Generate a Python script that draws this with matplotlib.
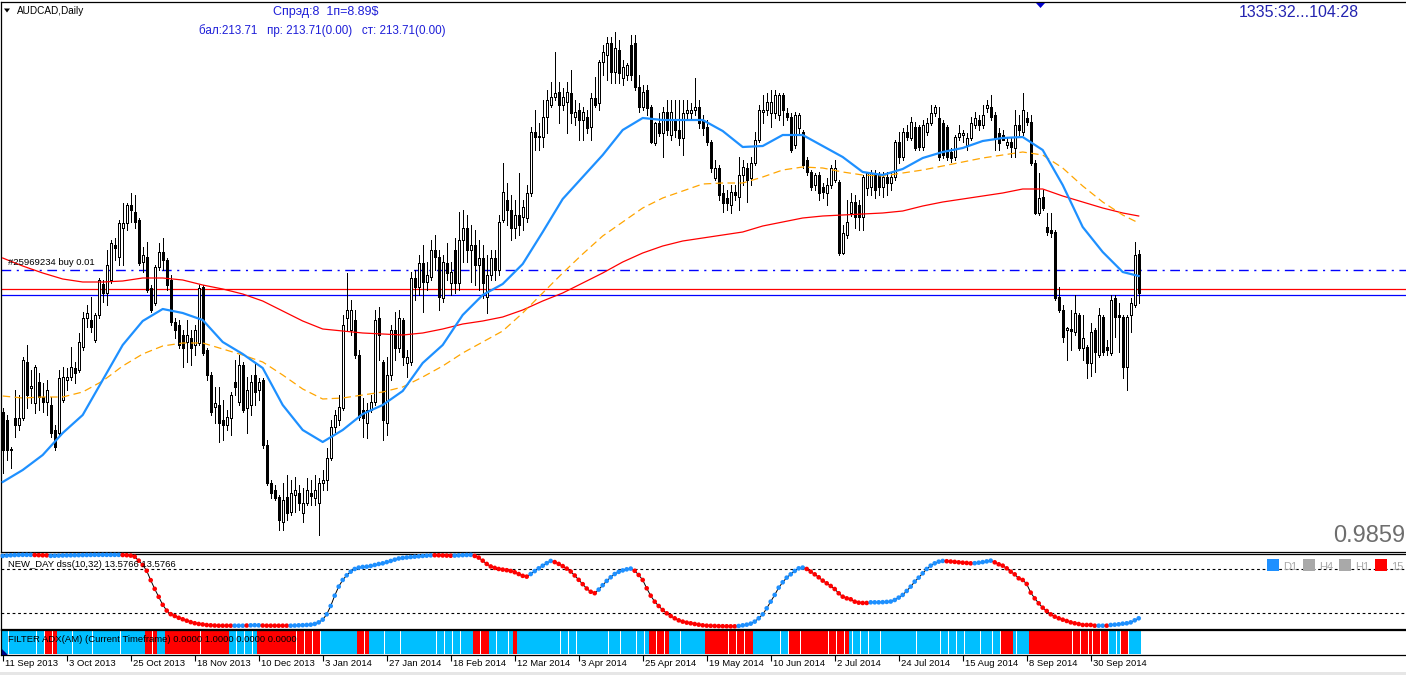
import numpy as np
import matplotlib
matplotlib.use("Agg")
import matplotlib.pyplot as plt
from matplotlib.patches import Rectangle, Polygon
from matplotlib.transforms import blended_transform_factory

plt.rcParams['font.family'] = ['Liberation Sans', 'DejaVu Sans']

W, H, DPI = 1406, 675, 100

# ---------------- texts ----------------
symbol_title = "AUDCAD,Daily"
info_line1 = "Спрэд:8  1п=8.89$"
info_line2 = "бал:213.71   пр: 213.71(0.00)   ст: 213.71(0.00)"
timer_text = "1335:32...104:28"
price_label = "0.9859"
order_label = "#25969234 buy 0.01"
dss_label = "NEW_DAY dss(10,32) 13.5766 13.5766"
adx_label = "FILTER ADX(AM) (Current Timeframe) 0.0000 1.0000 0.0000 0.0000"
tf_legend = ["D1", "H4", "H1", "15"]
tf_colors = ["#1E90FF", "#A9A9A9", "#A9A9A9", "#FF0000"]

date_labels = ["11 Sep 2013", "3 Oct 2013", "25 Oct 2013", "18 Nov 2013", "10 Dec 2013",
               "3 Jan 2014", "27 Jan 2014", "18 Feb 2014", "12 Mar 2014", "3 Apr 2014",
               "25 Apr 2014", "19 May 2014", "10 Jun 2014", "2 Jul 2014", "24 Jul 2014",
               "15 Aug 2014", "8 Sep 2014", "30 Sep 2014"]
date_bars = [0, 16, 32, 48, 64, 80, 96, 112, 128, 144, 160, 176, 192, 208, 224, 240, 256, 272]

# ---------------- OHLC (price in units of 0.0001) ----------------
PIP = 0.0001
open_p = [
 9546, 9530, 9470, 9534, 9520, 9534, 9646, 9594, 9564, 9606,
 9576, 9566, 9560, 9510, 9504, 9570, 9610, 9616, 9634, 9630,
 9676, 9734, 9730, 9690, 9740, 9802, 9784, 9810, 9880, 9856,
 9914, 9924, 9960, 9946, 9930, 9846, 9856, 9794, 9764, 9836,
 9866, 9850, 9810, 9726, 9720, 9700, 9686, 9694, 9680, 9684,
 9796, 9670, 9620, 9556, 9560, 9530, 9520, 9534, 9606, 9566,
 9640, 9554, 9560, 9620, 9590, 9610, 9480, 9404, 9390, 9376,
 9326, 9376, 9346, 9380, 9384, 9344, 9364, 9384, 9374, 9364,
 9404, 9410, 9454, 9516, 9530, 9554, 9734, 9710, 9730, 9660,
 9550, 9524, 9550, 9566, 9734, 9646, 9524, 9620, 9710, 9674,
 9730, 9644, 9646, 9814, 9796, 9844, 9806, 9816, 9870, 9856,
 9774, 9844, 9804, 9870, 9804, 9890, 9914, 9870, 9880, 9840,
 9854, 9776, 9820, 9854, 9830, 9930, 9970, 9950, 9914, 9940,
 9936, 9934, 9984, 10106, 10096, 10096, 10136, 10160, 10176, 10186,
 10160, 10166, 10184, 10136, 10150, 10130, 10136, 10116, 10174, 10164,
 10246, 10260, 10284, 10226, 10270, 10214, 10220, 10280, 10284, 10196,
 10156, 10190, 10156, 10084, 10124, 10104, 10146, 10100, 10130, 10110,
 10094, 10144, 10144, 10150, 10156, 10130, 10116, 10086, 10014, 10034,
 9984, 9974, 9960, 9986, 9976, 10020, 10034, 10014, 10044, 10090,
 10146, 10150, 10144, 10144, 10140, 10180, 10144, 10136, 10080, 10114,
 10106, 10050, 10026, 10000, 10020, 9996, 9984, 10000, 10010, 10006,
 9864, 9900, 9944, 9966, 9960, 9936, 9994, 9996, 10024, 10020,
 9996, 10016, 10004, 10016, 10086, 10056, 10106, 10094, 10116, 10116,
 10076, 10106, 10124, 10144, 10134, 10124, 10116, 10066, 10056, 10096,
 10100, 10080, 10094, 10120, 10130, 10120, 10154, 10156, 10140, 10104,
 10100, 10080, 10086, 10074, 10120, 10106, 10134, 10126, 10044, 9944,
 9976, 9916, 9910, 9906, 9776, 9750, 9710, 9712, 9706, 9740,
 9674, 9676, 9644, 9710, 9660, 9736, 9676, 9664, 9774, 9740,
 9736, 9636, 9740, 9760, 9862]
high_p = [
 9554, 9540, 9476, 9590, 9580, 9656, 9680, 9630, 9640, 9624,
 9604, 9610, 9576, 9520, 9630, 9636, 9634, 9676, 9646, 9704,
 9746, 9760, 9776, 9744, 9814, 9810, 9870, 9890, 9894, 9930,
 9964, 9964, 9984, 9980, 9934, 9876, 9886, 9800, 9840, 9884,
 9894, 9854, 9820, 9734, 9730, 9710, 9730, 9710, 9720, 9800,
 9800, 9674, 9626, 9596, 9596, 9570, 9550, 9586, 9650, 9660,
 9646, 9616, 9620, 9644, 9614, 9614, 9490, 9410, 9400, 9380,
 9404, 9420, 9410, 9416, 9400, 9394, 9414, 9410, 9420, 9414,
 9430, 9474, 9530, 9550, 9580, 9740, 9824, 9770, 9750, 9670,
 9574, 9564, 9580, 9750, 9756, 9650, 9656, 9720, 9746, 9750,
 9734, 9670, 9826, 9830, 9860, 9880, 9846, 9890, 9900, 9870,
 9860, 9884, 9846, 9894, 9946, 9950, 9940, 9920, 9910, 9890,
 9880, 9860, 9870, 9870, 9940, 10044, 10004, 9980, 9970, 10024,
 9970, 10000, 10116, 10150, 10124, 10170, 10190, 10206, 10266, 10206,
 10194, 10206, 10230, 10170, 10164, 10156, 10150, 10184, 10216, 10250,
 10280, 10296, 10296, 10306, 10290, 10250, 10244, 10300, 10300, 10220,
 10200, 10200, 10160, 10126, 10144, 10156, 10170, 10170, 10170, 10170,
 10170, 10170, 10164, 10214, 10170, 10140, 10130, 10090, 10050, 10040,
 10000, 9990, 10000, 10000, 10056, 10050, 10044, 10056, 10106, 10160,
 10180, 10184, 10190, 10190, 10184, 10184, 10154, 10144, 10146, 10144,
 10110, 10056, 10030, 10024, 10026, 10004, 10014, 10040, 10050, 10010,
 9920, 9970, 9984, 9980, 9970, 10020, 10026, 10030, 10030, 10026,
 10026, 10026, 10026, 10090, 10106, 10114, 10120, 10136, 10126, 10120,
 10130, 10134, 10160, 10160, 10156, 10130, 10120, 10074, 10100, 10120,
 10110, 10104, 10136, 10146, 10140, 10160, 10170, 10180, 10146, 10114,
 10110, 10094, 10094, 10150, 10140, 10184, 10146, 10140, 10050, 10024,
 9990, 9944, 9944, 9910, 9796, 9760, 9716, 9750, 9780, 9744,
 9740, 9680, 9724, 9714, 9754, 9740, 9690, 9780, 9780, 9764,
 9740, 9740, 9774, 9886, 9870]
low_p = [
 9424, 9450, 9434, 9496, 9510, 9530, 9554, 9564, 9544, 9550,
 9546, 9540, 9496, 9470, 9500, 9566, 9590, 9610, 9604, 9626,
 9670, 9716, 9706, 9686, 9734, 9766, 9760, 9804, 9850, 9840,
 9840, 9910, 9926, 9914, 9840, 9826, 9786, 9746, 9760, 9830,
 9830, 9790, 9720, 9694, 9674, 9636, 9646, 9640, 9660, 9680,
 9660, 9610, 9540, 9524, 9486, 9490, 9510, 9500, 9580, 9560,
 9546, 9504, 9540, 9560, 9570, 9474, 9400, 9374, 9370, 9310,
 9310, 9330, 9340, 9346, 9350, 9326, 9360, 9360, 9360, 9300,
 9390, 9390, 9450, 9506, 9520, 9550, 9710, 9700, 9654, 9530,
 9496, 9494, 9546, 9560, 9650, 9490, 9500, 9610, 9650, 9666,
 9640, 9616, 9640, 9770, 9780, 9746, 9790, 9810, 9830, 9750,
 9766, 9810, 9780, 9784, 9790, 9846, 9846, 9806, 9800, 9790,
 9774, 9744, 9810, 9810, 9820, 9926, 9920, 9890, 9894, 9900,
 9910, 9926, 9978, 10070, 10070, 10076, 10104, 10156, 10170, 10124,
 10150, 10104, 10124, 10120, 10090, 10090, 10104, 10090, 10156, 10150,
 10220, 10210, 10204, 10204, 10204, 10200, 10210, 10210, 10190, 10146,
 10150, 10140, 10084, 10080, 10098, 10056, 10100, 10090, 10096, 10080,
 10060, 10130, 10134, 10140, 10114, 10100, 10080, 10026, 10010, 9970,
 9946, 9950, 9944, 9970, 9950, 10000, 9966, 10000, 10040, 10086,
 10124, 10140, 10116, 10134, 10130, 10120, 10130, 10066, 10074, 10100,
 10034, 10020, 9990, 9990, 9970, 9974, 9960, 9994, 10006, 9860,
 9862, 9894, 9938, 9914, 9910, 9910, 9980, 9980, 9974, 9980,
 9976, 9980, 9990, 10010, 10044, 10050, 10090, 10090, 10070, 10070,
 10070, 10100, 10120, 10138, 10050, 10054, 10050, 10046, 10050, 10090,
 10086, 10070, 10090, 10114, 10110, 10114, 10146, 10130, 10070, 10070,
 10090, 10074, 10056, 10056, 10100, 10100, 10120, 10040, 9942, 9940,
 9950, 9900, 9896, 9770, 9746, 9686, 9650, 9670, 9700, 9670,
 9650, 9614, 9618, 9626, 9656, 9660, 9660, 9660, 9696, 9666,
 9614, 9590, 9706, 9756, 9764]
close_p = [
 9470, 9470, 9472, 9520, 9534, 9650, 9580, 9598, 9636, 9576,
 9566, 9590, 9504, 9476, 9614, 9616, 9616, 9636, 9624, 9686,
 9734, 9744, 9716, 9740, 9810, 9784, 9840, 9884, 9874, 9924,
 9924, 9960, 9950, 9926, 9844, 9860, 9790, 9750, 9836, 9866,
 9850, 9800, 9726, 9710, 9680, 9674, 9700, 9674, 9710, 9794,
 9664, 9620, 9546, 9564, 9524, 9520, 9536, 9580, 9596, 9640,
 9550, 9590, 9606, 9586, 9606, 9480, 9404, 9384, 9374, 9330,
 9370, 9344, 9384, 9390, 9364, 9364, 9390, 9378, 9390, 9404,
 9410, 9454, 9516, 9540, 9556, 9720, 9750, 9750, 9660, 9536,
 9534, 9550, 9566, 9730, 9700, 9530, 9620, 9710, 9674, 9734,
 9656, 9656, 9814, 9796, 9844, 9806, 9820, 9870, 9856, 9776,
 9846, 9824, 9826, 9804, 9890, 9914, 9870, 9880, 9840, 9854,
 9804, 9820, 9854, 9830, 9926, 9986, 9950, 9914, 9940, 9920,
 9956, 9984, 10106, 10096, 10098, 10136, 10170, 10176, 10184, 10160,
 10176, 10186, 10144, 10146, 10130, 10146, 10114, 10174, 10160, 10246,
 10266, 10284, 10226, 10274, 10224, 10236, 10240, 10220, 10196, 10156,
 10186, 10154, 10086, 10124, 10104, 10146, 10110, 10146, 10110, 10094,
 10144, 10150, 10150, 10156, 10124, 10114, 10086, 10034, 10034, 9980,
 9964, 9964, 9986, 9980, 10020, 10036, 10010, 10044, 10090, 10150,
 10150, 10166, 10166, 10180, 10180, 10150, 10136, 10070, 10140, 10140,
 10040, 10026, 9996, 10020, 9984, 9986, 10000, 10034, 10034, 9864,
 9904, 9926, 9966, 9936, 9936, 10016, 10024, 10024, 9990, 9996,
 10016, 10004, 10016, 10086, 10056, 10106, 10096, 10126, 10074, 10076,
 10120, 10124, 10144, 10156, 10056, 10060, 10056, 10054, 10096, 10104,
 10104, 10094, 10124, 10134, 10120, 10140, 10160, 10136, 10094, 10084,
 10090, 10086, 10076, 10120, 10110, 10150, 10126, 10044, 9944, 9974,
 9954, 9906, 9904, 9774, 9750, 9696, 9714, 9708, 9744, 9674,
 9694, 9644, 9706, 9666, 9740, 9666, 9670, 9770, 9736, 9736,
 9636, 9736, 9764, 9860, 9784]

order_price = 0.9830
line_red_price = 0.9792
line_blue_price = 0.9781

# ---------------- moving averages (sampled every 5 bars) ----------------
ma_bars = list(range(0, 281, 5)) + [284]
ma_fast = [9406, 9430, 9460, 9504, 9540, 9610, 9680, 9728, 9752, 9744,
           9730, 9686, 9662, 9634, 9560, 9510, 9486, 9510, 9542, 9560,
           9588, 9644, 9680, 9740, 9780, 9802, 9842, 9906, 9972, 10016,
           10060, 10110, 10134, 10130, 10130, 10130, 10108, 10076, 10078, 10100,
           10100, 10078, 10056, 10026, 10020, 10032, 10054, 10066, 10074, 10088,
           10094, 10096, 10070, 10000, 9916, 9866, 9826, 9818]
ma_mid = [9578, 9574, 9576, 9576, 9586, 9608, 9638, 9662, 9678, 9684,
          9684, 9672, 9660, 9646, 9620, 9592, 9572, 9574, 9580, 9586,
          9596, 9616, 9638, 9664, 9686, 9708, 9744, 9784, 9824, 9862,
          9898, 9926, 9954, 9974, 9988, 10002, 10004, 10004, 10016, 10030,
          10036, 10034, 10026, 10020, 10018, 10024, 10030, 10038, 10046, 10054,
          10060, 10066, 10060, 10034, 9998, 9966, 9940, 9924]
ma_slow = [9854, 9838, 9824, 9812, 9806, 9806, 9808, 9814, 9814, 9810,
           9800, 9792, 9782, 9768, 9748, 9728, 9712, 9708, 9704, 9702,
           9700, 9704, 9712, 9722, 9728, 9736, 9750, 9768, 9784, 9804,
           9824, 9846, 9864, 9878, 9888, 9894, 9900, 9906, 9918, 9926,
           9934, 9938, 9940, 9942, 9944, 9948, 9958, 9966, 9972, 9978,
           9984, 9992, 9992, 9978, 9966, 9954, 9944, 9938]

# ---------------- DSS oscillator ----------------
dss = [
 98.5, 99, 99.4, 99.7, 99.9, 100, 100, 100,
 99.8, 99.6, 99.4, 99.3,
 98.6, 98.8, 99, 99.2, 99.3, 99.4, 99.5, 99.6, 99.7, 99.8, 99.9, 100, 100, 100, 100, 100, 100, 100,
 99.8, 99.5, 99.0, 97.5,
 92, 86, 78, 65, 53, 42, 31, 23, 18, 15.5, 13, 11, 9, 7, 5.5, 4.5, 3.8, 3, 2.6, 2.3, 2.1, 2.1, 2.1, 2.1,
 2.1, 2.1, 2.1,
 2.3,
 2.6, 2.8, 2.6,
 2.3, 2.1, 2.1, 2.1, 2.1, 2.1, 2.1,
 2.1, 2.3, 2.6, 2.8, 3.1,
 3.5, 4.5, 6.7, 10.4, 17.8, 29.3, 43.6, 56.1, 65.3, 71.7, 76.8, 80.5, 82.4, 83.3, 83.7, 84.7, 86, 87.4,
 88.3, 90, 91.6, 93.4, 95,
 95.8, 96.4, 97, 97.5, 98, 98.5, 98.9, 99.3,
 99.5, 99.4, 99.2, 99.0, 98.8,
 99.0, 99.3, 99.6, 99.8, 100,
 98.5, 96.2, 92, 87.5, 84, 82, 80.5, 79.6, 78.8, 77.7, 76, 73.5, 71, 69.9,
 73.5, 77.5, 81.4, 85, 88.5, 91.6,
 90, 87.5, 84.5, 81, 77, 71.5, 65.5, 59.5, 53.5, 49, 47,
 52, 58, 64, 69, 73.5, 76.5, 78.5, 80, 81,
 78, 72.2, 65.3, 53.8, 43.6, 35.3, 29.3, 23.8, 19.2, 15.5, 12.3, 9.5, 7.7, 6.3, 5.4, 4.4, 3.5, 2.6,
 2.1, 1.9, 1.7, 1.5, 1.4, 1.3, 1.2, 1.2,
 1.7, 2.6, 3.5, 4.9, 7.7, 12.3, 17.8, 26.1, 35.3, 44.6, 54.7, 62.1, 68.5, 73.1, 77.7, 81.4, 82.4,
 80.5, 76.8, 73.1, 69, 64.4, 60.7, 57, 52.8, 46.9, 42.2, 39.9, 38.6, 35.3, 33.9, 33.5, 33.5,
 34.4, 34.4, 34.4, 34.6, 35, 35.5, 37.6, 40.9, 44.6, 50.1, 56.1, 63, 68.5, 74.5, 80.5, 85.1, 88.3,
 90.6, 91.6,
 91.2, 90.8, 90.3, 89.7, 89.2, 88.8, 88.3,
 88.5, 89.2, 90, 91, 92,
 89.7, 87, 85.1, 81.4, 76.8, 73.1, 67.6, 65.3, 59.8, 47.8, 39.9, 33, 27, 22.4, 17.8, 14.6, 12.3,
 10.4, 8.6, 6.7, 5.4, 4.4, 3.1, 3.1, 3.1, 2.1,
 2.1, 2.1,
 2.1,
 3.1, 3.5, 4, 4.9, 5.4, 6.7, 9.5, 12.3]
dss_runs = [('b', 8), ('r', 4), ('b', 18), ('r', 28), ('b', 3), ('r', 1), ('b', 3), ('r', 7),
            ('b', 36), ('r', 5), ('b', 5), ('r', 14), ('b', 6), ('r', 11), ('b', 9), ('r', 26),
            ('b', 17), ('r', 16), ('b', 19), ('r', 7), ('b', 5), ('r', 26), ('b', 2), ('r', 1), ('b', 8)]
dss_levels = [20, 80]

# ---------------- ADX filter strip ----------------
adx_runs = [('c', 11), ('r', 3), ('c', 22), ('r', 3), ('c', 2), ('r', 16), ('c', 7), ('r', 16),
            ('c', 9), ('r', 3), ('c', 26), ('r', 4), ('c', 6), ('r', 1), ('c', 33), ('r', 5),
            ('c', 9), ('r', 12), ('c', 9), ('r', 15), ('c', 38), ('r', 3), ('c', 4), ('r', 20),
            ('c', 3), ('r', 2), ('c', 3)]
adx_gaps = [1, 8, 10, 12, 17, 22, 29, 37, 49, 58, 60, 62, 73, 75, 77, 79, 90, 95,
            99, 108, 110, 112, 114, 119, 123, 126, 139, 141, 143, 151, 154, 158, 160,
            163, 165, 169, 181, 183, 185, 194, 196, 199, 206, 208, 210, 212, 214, 216,
            219, 228, 234, 236, 238, 240, 244, 247, 249, 253, 267, 269, 271, 272, 274,
            276, 278, 279, 281]

# ---------------- build arrays ----------------
o = np.array(open_p) * PIP
h = np.array(high_p) * PIP
l = np.array(low_p) * PIP
c = np.array(close_p) * PIP
N = len(c)
x = np.arange(N)
assert len(o) == len(h) == len(l) == N == 285, (len(o), len(h), len(l), N)
assert len(dss) == N, len(dss)

def expand(runs):
    out = []
    for k, n in runs:
        out += [k] * n
    return out

dss_cols = expand(dss_runs)
adx_cols = expand(adx_runs)
assert len(dss_cols) == N and len(adx_cols) == N

BLUE = '#1E90FF'
RED = '#FF0000'
CYAN = '#00BFFF'
ORANGE = '#FFA500'

fig = plt.figure(figsize=(W / DPI, H / DPI), dpi=DPI)
fig.patch.set_facecolor('white')

def axes_px(left, top, right, bottom):
    return fig.add_axes([left / W, 1 - bottom / H, (right - left) / W, (bottom - top) / H])

ax = axes_px(1, 2, 1406, 552)
ax2 = axes_px(1, 554, 1406, 628.5)
ax3 = axes_px(1, 630, 1406, 655)

XL = (-0.425, 350.825)
for a in (ax, ax2, ax3):
    a.set_xlim(*XL)
    a.set_facecolor('white')
    for s in ('top', 'left', 'bottom'):
        a.spines[s].set_linewidth(0.9)
        a.spines[s].set_color('black')
    a.spines['right'].set_visible(False)
    a.set_yticks([])
    a.tick_params(axis='x', bottom=False, labelbottom=False)

# ---- main panel ----
ax.set_ylim(0.9266, 1.0366)
ax.axhline(order_price, color='#0000FF', lw=1.0, ls=(0, (7, 4, 1.5, 4)), zorder=1)
ax.axhline(line_red_price, color=RED, lw=0.9, zorder=1)
ax.axhline(line_blue_price, color='#0000FF', lw=0.9, zorder=1)

up = c >= o
ax.vlines(x, l, h, color='black', lw=0.72, zorder=2, antialiased=False)
body_bottom = np.minimum(o, c)
body_h = np.maximum(np.abs(c - o), 0.00004)
ax.bar(x[up], body_h[up], bottom=body_bottom[up], width=0.5,
       color='white', edgecolor='black', linewidth=0.6, zorder=3, antialiased=False)
ax.bar(x[~up], body_h[~up], bottom=body_bottom[~up], width=0.5,
       color='black', edgecolor='black', linewidth=0.6, zorder=3, antialiased=False)

mb = np.array(ma_bars)
ax.plot(mb, np.array(ma_slow) * PIP, color=RED, lw=0.9, zorder=4)
ax.plot(mb, np.array(ma_mid) * PIP, color=ORANGE, lw=0.9, ls=(0, (6, 3.5)), zorder=4)
ax.plot(mb, np.array(ma_fast) * PIP, color=BLUE, lw=1.6, zorder=5)

ax.text(1.3, order_price + 0.0006, order_label, fontsize=6.8, color='black',
        ha='left', va='bottom', zorder=6)

# ---- DSS panel ----
ax2.set_ylim(-1.8, 101.2)
for lv in dss_levels:
    ax2.axhline(lv, color='black', lw=0.8, ls=(0, (2.5, 2.5)))
dv = np.array(dss)
ax2.plot(x, dv, color='black', lw=0.7, zorder=2)
ax2.scatter(x, dv, s=11, c=[BLUE if k == 'b' else RED for k in dss_cols],
            linewidths=0, zorder=3, clip_on=False)
ax2.text(1.3, 0.86, dss_label, transform=blended_transform_factory(ax2.transData, ax2.transAxes),
         fontsize=6.8, ha='left', va='center', color='black', zorder=4)

# ---- ADX strip ----
ax3.set_ylim(-0.04, 1.04)
gapset = set(adx_gaps)
widths = np.array([0.72 if i in gapset else 1.02 for i in range(N)])
centers = np.array([i - 0.14 if i in gapset else float(i) for i in range(N)])
ax3.bar(centers, 1.0, bottom=0, width=widths,
        color=[CYAN if k == 'c' else RED for k in adx_cols],
        linewidth=0, antialiased=True, zorder=1)
ax3.text(1.3, 0.62, adx_label, transform=blended_transform_factory(ax3.transData, ax3.transAxes),
         fontsize=6.8, ha='left', va='center', color='black', zorder=4)

# date axis
ax3.set_xticks(date_bars)
ax3.tick_params(axis='x', bottom=True, labelbottom=False, length=4, width=0.8, direction='out')
tr = blended_transform_factory(ax3.transData, ax3.transAxes)
for b, d in zip(date_bars, date_labels):
    ax3.text(b + 0.55, -0.17, d, transform=tr, fontsize=6.8, ha='left', va='top', color='black')

# ---------------- figure-level decorations ----------------
def ftext(px, py, s, **kw):
    fig.text(px / W, 1 - py / H, s, **kw)

def fpoly(pts, color):
    fig.patches.append(Polygon([(px / W, 1 - py / H) for px, py in pts], closed=True,
                               transform=fig.transFigure, facecolor=color, edgecolor='none'))

def frect(x0, y0, w, hh, color):
    fig.patches.append(Rectangle((x0 / W, 1 - (y0 + hh) / H), w / W, hh / H,
                                 transform=fig.transFigure, facecolor=color, edgecolor='none'))

fpoly([(4, 8.5), (10, 8.5), (7, 12.5)], 'black')
ftext(17, 10.5, symbol_title, fontsize=7.2, ha='left', va='center', color='black')
ftext(273, 12, info_line1, fontsize=9, ha='left', va='center', color='#1F1FD8')
ftext(199, 30.5, info_line2, fontsize=8.4, ha='left', va='center', color='#1F1FD8')
ftext(1239, 12.5, timer_text, fontsize=11.5, ha='left', va='center', color='#2323B0')
fpoly([(1036, 3), (1045, 3), (1040.5, 8)], '#0000CC')
ftext(1405, 536, price_label, fontsize=17, ha='right', va='center', color='#6E6E6E')

# timeframe legend
leg_x = [1267, 1303, 1339, 1375]
for lx, lab, col in zip(leg_x, tf_legend, tf_colors):
    frect(lx, 559, 12, 12, col)
    ftext(lx + 16, 567.5, lab, fontsize=8, ha='left', va='center', color='#A9A9A9')

# small marker at lower-left of ADX strip
fpoly([(2, 649), (2, 655), (8, 655)], '#000080')
# light bottom strip
frect(0, 672, W, 3, '#E6E6E6')

fig.savefig('out.png', dpi=DPI, facecolor='white')
